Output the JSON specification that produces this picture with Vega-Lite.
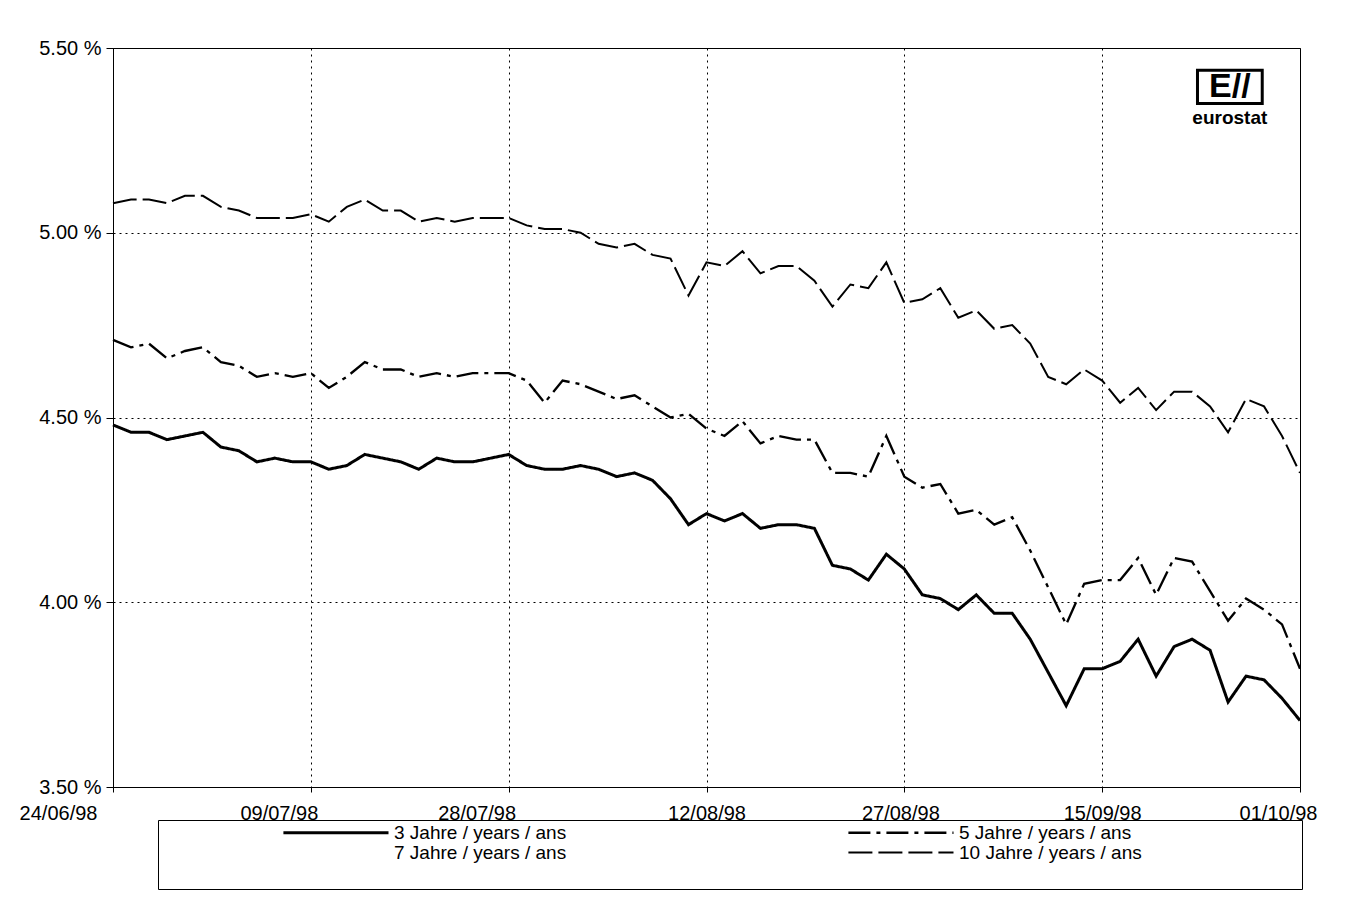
{
  "$schema": "https://vega.github.io/schema/vega-lite/v6.json",
  "width": 1187,
  "height": 739,
  "autosize": {"type": "none"},
  "padding": {"left": 113, "top": 48, "right": 65, "bottom": 116},
  "background": "white",
  "config": {
    "font": "Liberation Sans",
    "view": {"stroke": "black", "strokeWidth": 1},
    "axis": {
      "labelFont": "Liberation Sans",
      "labelFontSize": 20,
      "labelColor": "black",
      "domainColor": "black",
      "tickColor": "black",
      "gridColor": "black",
      "gridDash": [2, 4],
      "gridWidth": 1,
      "gridOpacity": 1,
      "title": null
    }
  },
  "data": {
    "values": [
      {"i": 0, "y10": 5.08, "y5": 4.71, "y3": 4.48},
      {"i": 1, "y10": 5.09, "y5": 4.69, "y3": 4.46},
      {"i": 2, "y10": 5.09, "y5": 4.70, "y3": 4.46},
      {"i": 3, "y10": 5.08, "y5": 4.66, "y3": 4.44},
      {"i": 4, "y10": 5.10, "y5": 4.68, "y3": 4.45},
      {"i": 5, "y10": 5.10, "y5": 4.69, "y3": 4.46},
      {"i": 6, "y10": 5.07, "y5": 4.65, "y3": 4.42},
      {"i": 7, "y10": 5.06, "y5": 4.64, "y3": 4.41},
      {"i": 8, "y10": 5.04, "y5": 4.61, "y3": 4.38},
      {"i": 9, "y10": 5.04, "y5": 4.62, "y3": 4.39},
      {"i": 10, "y10": 5.04, "y5": 4.61, "y3": 4.38},
      {"i": 11, "y10": 5.05, "y5": 4.62, "y3": 4.38},
      {"i": 12, "y10": 5.03, "y5": 4.58, "y3": 4.36},
      {"i": 13, "y10": 5.07, "y5": 4.61, "y3": 4.37},
      {"i": 14, "y10": 5.09, "y5": 4.65, "y3": 4.40},
      {"i": 15, "y10": 5.06, "y5": 4.63, "y3": 4.39},
      {"i": 16, "y10": 5.06, "y5": 4.63, "y3": 4.38},
      {"i": 17, "y10": 5.03, "y5": 4.61, "y3": 4.36},
      {"i": 18, "y10": 5.04, "y5": 4.62, "y3": 4.39},
      {"i": 19, "y10": 5.03, "y5": 4.61, "y3": 4.38},
      {"i": 20, "y10": 5.04, "y5": 4.62, "y3": 4.38},
      {"i": 21, "y10": 5.04, "y5": 4.62, "y3": 4.39},
      {"i": 22, "y10": 5.04, "y5": 4.62, "y3": 4.40},
      {"i": 23, "y10": 5.02, "y5": 4.60, "y3": 4.37},
      {"i": 24, "y10": 5.01, "y5": 4.54, "y3": 4.36},
      {"i": 25, "y10": 5.01, "y5": 4.60, "y3": 4.36},
      {"i": 26, "y10": 5.00, "y5": 4.59, "y3": 4.37},
      {"i": 27, "y10": 4.97, "y5": 4.57, "y3": 4.36},
      {"i": 28, "y10": 4.96, "y5": 4.55, "y3": 4.34},
      {"i": 29, "y10": 4.97, "y5": 4.56, "y3": 4.35},
      {"i": 30, "y10": 4.94, "y5": 4.53, "y3": 4.33},
      {"i": 31, "y10": 4.93, "y5": 4.50, "y3": 4.28},
      {"i": 32, "y10": 4.83, "y5": 4.51, "y3": 4.21},
      {"i": 33, "y10": 4.92, "y5": 4.47, "y3": 4.24},
      {"i": 34, "y10": 4.91, "y5": 4.45, "y3": 4.22},
      {"i": 35, "y10": 4.95, "y5": 4.49, "y3": 4.24},
      {"i": 36, "y10": 4.89, "y5": 4.43, "y3": 4.20},
      {"i": 37, "y10": 4.91, "y5": 4.45, "y3": 4.21},
      {"i": 38, "y10": 4.91, "y5": 4.44, "y3": 4.21},
      {"i": 39, "y10": 4.87, "y5": 4.44, "y3": 4.20},
      {"i": 40, "y10": 4.80, "y5": 4.35, "y3": 4.10},
      {"i": 41, "y10": 4.86, "y5": 4.35, "y3": 4.09},
      {"i": 42, "y10": 4.85, "y5": 4.34, "y3": 4.06},
      {"i": 43, "y10": 4.92, "y5": 4.45, "y3": 4.13},
      {"i": 44, "y10": 4.81, "y5": 4.34, "y3": 4.09},
      {"i": 45, "y10": 4.82, "y5": 4.31, "y3": 4.02},
      {"i": 46, "y10": 4.85, "y5": 4.32, "y3": 4.01},
      {"i": 47, "y10": 4.77, "y5": 4.24, "y3": 3.98},
      {"i": 48, "y10": 4.79, "y5": 4.25, "y3": 4.02},
      {"i": 49, "y10": 4.74, "y5": 4.21, "y3": 3.97},
      {"i": 50, "y10": 4.75, "y5": 4.23, "y3": 3.97},
      {"i": 51, "y10": 4.70, "y5": 4.14, "y3": 3.90},
      {"i": 52, "y10": 4.61, "y5": 4.04, "y3": 3.81},
      {"i": 53, "y10": 4.59, "y5": 3.94, "y3": 3.72},
      {"i": 54, "y10": 4.63, "y5": 4.05, "y3": 3.82},
      {"i": 55, "y10": 4.60, "y5": 4.06, "y3": 3.82},
      {"i": 56, "y10": 4.54, "y5": 4.06, "y3": 3.84},
      {"i": 57, "y10": 4.58, "y5": 4.12, "y3": 3.90},
      {"i": 58, "y10": 4.52, "y5": 4.02, "y3": 3.80},
      {"i": 59, "y10": 4.57, "y5": 4.12, "y3": 3.88},
      {"i": 60, "y10": 4.57, "y5": 4.11, "y3": 3.90},
      {"i": 61, "y10": 4.53, "y5": 4.03, "y3": 3.87},
      {"i": 62, "y10": 4.46, "y5": 3.95, "y3": 3.73},
      {"i": 63, "y10": 4.55, "y5": 4.01, "y3": 3.80},
      {"i": 64, "y10": 4.53, "y5": 3.98, "y3": 3.79},
      {"i": 65, "y10": 4.45, "y5": 3.94, "y3": 3.74},
      {"i": 66, "y10": 4.35, "y5": 3.82, "y3": 3.68}
    ]
  },
  "layer": [
    {
      "transform": [{"fold": ["y3", "y5", "y10"], "as": ["series", "rate"]}],
      "mark": {"type": "line", "strokeJoin": "miter", "strokeCap": "butt"},
      "encoding": {
        "x": {
          "field": "i",
          "type": "quantitative",
          "scale": {"domain": [0, 66], "nice": false, "zero": false},
          "axis": {
            "values": [0, 11, 22, 33, 44, 55, 66],
            "labelExpr": "['24/06/98','09/07/98','28/07/98','12/08/98','27/08/98','15/09/98','01/10/98'][round(datum.value/11)]",
            "grid": true,
            "tickSize": 5,
            "labelPadding": 11,
            "labelFlush": false,
            "labelOverlap": false,
            "labelBound": false,
            "labelOffset": {
              "condition": [
                {"test": "datum.value == 0", "value": -55},
                {"test": "datum.value == 11 || datum.value == 22", "value": -32},
                {"test": "datum.value == 44", "value": -4},
                {"test": "datum.value == 66", "value": -22}
              ],
              "value": 0
            }
          }
        },
        "y": {
          "field": "rate",
          "type": "quantitative",
          "scale": {"domain": [3.5, 5.5], "nice": false, "zero": false},
          "axis": {
            "values": [3.5, 4.0, 4.5, 5.0, 5.5],
            "labelExpr": "format(datum.value, '.2f') + ' %'",
            "grid": true,
            "tickSize": 7,
            "labelPadding": 5,
            "labelOverlap": false,
            "labelFlush": false,
            "labelBound": false
          }
        },
        "color": {
          "field": "series",
          "type": "nominal",
          "scale": {"domain": ["y3", "y7", "y5", "y10"], "range": ["black", "white", "black", "black"]},
          "legend": {
            "orient": "none",
            "legendX": 45,
            "legendY": 772,
            "columns": 2,
            "columnPadding": 159,
            "rowPadding": 0,
            "padding": 3,
            "strokeColor": "black",
            "fillColor": "white",
            "symbolType": "M0.07,0H1",
            "symbolSize": 51076,
            "symbolStrokeWidth": 2,
            "clipHeight": 19,
            "labelOffset": 4,
            "labelFont": "Liberation Sans",
            "labelFontSize": 19,
            "labelColor": "black",
            "labelLimit": 0,
            "title": " ",
            "titleOrient": "right",
            "titleFontSize": 63,
            "titlePadding": 157,
            "titleBaseline": "top",
            "titleAnchor": "start",
            "labelExpr": "datum.value == 'y3' ? '3 Jahre / years / ans' : datum.value == 'y5' ? '5 Jahre / years / ans' : datum.value == 'y7' ? '7 Jahre / years / ans' : '10 Jahre / years / ans'"
          }
        },
        "strokeDash": {
          "field": "series",
          "type": "nominal",
          "scale": {"domain": ["y3", "y7", "y5", "y10"], "range": [[1, 0], [1, 0], [22, 6, 4, 6], [24, 6]]}
        },
        "strokeWidth": {
          "field": "series",
          "type": "nominal",
          "scale": {"domain": ["y3", "y7", "y5", "y10"], "range": [3, 2, 2, 2]},
          "legend": null
        }
      }
    },
    {
      "data": {"values": [{}]},
      "mark": {"type": "rect", "fill": "white", "stroke": "black", "strokeWidth": 3},
      "encoding": {
        "x": {"datum": 60.3, "type": "quantitative"},
        "x2": {"datum": 63.9},
        "y": {"datum": 5.44, "type": "quantitative"},
        "y2": {"datum": 5.35}
      }
    },
    {
      "data": {"values": [{}]},
      "mark": {"type": "text", "text": "E//", "font": "Liberation Sans", "fontWeight": "bold", "fontSize": 34, "align": "center", "baseline": "middle", "color": "black"},
      "encoding": {
        "x": {"datum": 62.1, "type": "quantitative"},
        "y": {"datum": 5.395, "type": "quantitative"}
      }
    },
    {
      "data": {"values": [{}]},
      "mark": {"type": "text", "text": "eurostat", "font": "Liberation Sans", "fontWeight": "bold", "fontSize": 19, "align": "center", "baseline": "middle", "color": "black"},
      "encoding": {
        "x": {"datum": 62.1, "type": "quantitative"},
        "y": {"datum": 5.31, "type": "quantitative"}
      }
    }
  ]
}
